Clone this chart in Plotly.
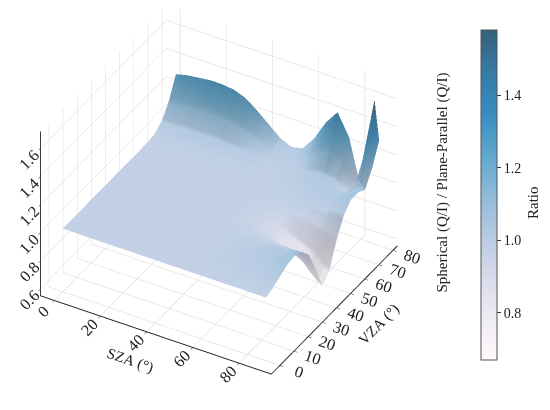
import plotly.graph_objects as go

# SZA (rows) and VZA (columns) grid, in degrees
sza = [0, 5, 10, 15, 20, 25, 30, 35, 40, 45, 50, 55, 60, 65, 70, 75, 80, 82, 84, 86, 88]
vza = [0, 5, 10, 15, 20, 25, 30, 35, 40, 45, 50, 55, 60, 65, 70, 75, 80]

# Ratio Spherical / Plane-Parallel (Q/I), one row per SZA, columns follow vza
ratio = [
    [1.00, 1.00, 1.00, 1.00, 1.00, 1.00, 1.00, 1.00, 1.00, 1.00, 1.00, 1.00, 1.00, 1.01, 1.05, 1.14, 1.28],
    [1.00, 1.00, 1.00, 1.00, 1.00, 1.00, 1.00, 1.00, 1.00, 1.00, 1.00, 1.00, 1.00, 1.02, 1.05, 1.15, 1.30],
    [1.00, 1.00, 1.00, 1.00, 1.00, 1.00, 1.00, 1.00, 1.00, 1.00, 1.00, 1.00, 1.00, 1.02, 1.06, 1.16, 1.31],
    [1.00, 1.00, 1.00, 1.00, 1.00, 1.00, 1.00, 1.00, 1.00, 1.00, 1.00, 1.00, 1.00, 1.02, 1.06, 1.16, 1.32],
    [1.00, 1.00, 1.00, 1.00, 1.00, 1.00, 1.00, 1.00, 1.00, 1.00, 1.00, 1.00, 1.00, 1.02, 1.06, 1.16, 1.32],
    [1.00, 1.00, 1.00, 1.00, 1.00, 1.00, 1.00, 1.00, 1.00, 1.00, 1.00, 1.00, 1.00, 1.02, 1.06, 1.16, 1.31],
    [1.00, 1.00, 1.00, 1.00, 1.00, 1.00, 1.00, 1.00, 1.00, 1.00, 1.00, 1.00, 1.00, 1.01, 1.05, 1.14, 1.28],
    [1.00, 1.00, 1.00, 1.00, 1.00, 1.00, 1.00, 1.00, 1.00, 1.00, 1.00, 1.00, 1.00, 1.01, 1.04, 1.11, 1.22],
    [1.00, 1.00, 1.00, 1.00, 1.00, 1.00, 1.00, 1.00, 1.00, 1.00, 1.00, 1.00, 1.00, 1.01, 1.03, 1.08, 1.15],
    [1.00, 1.00, 1.00, 1.00, 1.00, 1.00, 1.00, 1.00, 1.00, 1.00, 1.00, 1.00, 1.00, 1.00, 1.01, 1.04, 1.08],
    [1.00, 1.00, 1.00, 1.00, 1.00, 1.00, 1.00, 1.00, 1.00, 1.00, 1.00, 1.00, 1.00, 1.00, 1.01, 1.02, 1.04],
    [1.00, 1.00, 1.00, 1.00, 1.00, 1.00, 1.00, 0.99, 0.98, 0.99, 0.99, 1.00, 1.00, 1.01, 1.01, 1.03, 1.06],
    [1.00, 1.00, 1.01, 1.01, 1.01, 1.01, 1.00, 0.98, 0.96, 0.97, 0.99, 1.00, 1.01, 1.02, 1.03, 1.08, 1.16],
    [1.00, 1.00, 1.01, 1.02, 1.02, 1.02, 1.00, 0.97, 0.93, 0.94, 0.98, 1.00, 1.02, 1.03, 1.05, 1.15, 1.30],
    [1.00, 1.01, 1.02, 1.03, 1.03, 1.02, 1.00, 0.95, 0.88, 0.91, 0.97, 1.01, 1.03, 1.04, 1.07, 1.20, 1.40],
    [1.00, 1.01, 1.03, 1.04, 1.05, 1.04, 1.00, 0.93, 0.84, 0.87, 0.95, 1.01, 1.04, 1.04, 1.05, 1.13, 1.25],
    [1.00, 1.01, 1.03, 1.05, 1.06, 1.05, 1.00, 0.90, 0.79, 0.83, 0.94, 1.01, 1.05, 1.04, 0.99, 0.96, 0.92],
    [1.00, 1.02, 1.04, 1.06, 1.07, 1.05, 1.00, 0.89, 0.75, 0.81, 0.93, 1.02, 1.06, 1.05, 1.02, 1.05, 1.10],
    [1.00, 1.02, 1.04, 1.07, 1.08, 1.06, 1.00, 0.87, 0.72, 0.78, 0.92, 1.02, 1.07, 1.07, 1.07, 1.20, 1.40],
    [1.00, 1.02, 1.05, 1.08, 1.09, 1.07, 1.00, 0.86, 0.69, 0.75, 0.91, 1.02, 1.08, 1.09, 1.10, 1.29, 1.58],
    [1.00, 1.02, 1.05, 1.08, 1.09, 1.07, 1.00, 0.85, 0.67, 0.74, 0.90, 1.02, 1.08, 1.08, 1.05, 1.15, 1.30],
]

x_ticks = [0, 20, 40, 60, 80]
y_ticks = [0, 10, 20, 30, 40, 50, 60, 70, 80]
z_ticks = [0.6, 0.8, 1.0, 1.2, 1.4, 1.6]
cb_ticks = [0.8, 1.0, 1.2, 1.4]

# matplotlib PuBu seen at alpha 0.8 over white
pubu_soft = [
    [0.000, "rgb(255,249,252)"],
    [0.125, "rgb(240,236,245)"],
    [0.250, "rgb(217,218,235)"],
    [0.375, "rgb(184,202,226)"],
    [0.500, "rgb(144,186,217)"],
    [0.625, "rgb(94,166,205)"],
    [0.750, "rgb(55,141,192)"],
    [0.875, "rgb(54,123,164)"],
    [1.000, "rgb(53,96,121)"],
]

FONT = "Liberation Serif"

z_grid = [[ratio[i][j] for i in range(len(sza))] for j in range(len(vza))]

fig = go.Figure()
fig.add_trace(go.Surface(
    x=sza, y=vza, z=z_grid,
    colorscale=pubu_soft,
    opacity=0.9,
    showscale=True,
    lighting=dict(ambient=0.8, diffuse=0.4, specular=0.05, roughness=0.9),
    colorbar=dict(
        x=473 / 550, xanchor="left", xpad=0, y=1 - 187 / 410, yanchor="middle", ypad=0,
        len=330 / 410, lenmode="fraction", thickness=16,
        outlinecolor="#555555", outlinewidth=1,
        tickvals=cb_ticks, ticktext=[f"{t:.1f}" for t in cb_ticks],
        ticks="outside", ticklen=4, tickcolor="#333333",
        tickfont=dict(family=FONT, size=14, color="#222222"),
    ),
))

axis_common = dict(
    showbackground=False,
    gridcolor="#d4d4d4", gridwidth=1,
    showline=True, linecolor="#222222", linewidth=2,
    ticks="outside", ticklen=4, tickcolor="#222222",
    tickfont=dict(family=FONT, size=14, color="#222222"),
    zeroline=False, showspikes=False,
)

fig.update_layout(
    width=550, height=410,
    margin=dict(l=0, r=0, t=0, b=0),
    paper_bgcolor="white",
    font=dict(family=FONT, color="#222222"),
    scene=dict(
        domain=dict(x=[0.02, 0.79], y=[0.03, 1.0]),
        xaxis=dict(axis_common, range=[-6, 94], tickvals=x_ticks,
                   title=dict(text="SZA (°)", font=dict(family=FONT, size=15))),
        yaxis=dict(axis_common, range=[-6, 83], tickvals=y_ticks,
                   title=dict(text="VZA (°)", font=dict(family=FONT, size=15))),
        zaxis=dict(axis_common, range=[0.55, 1.72], tickvals=z_ticks,
                   ticktext=[f"{t:.1f}" for t in z_ticks],
                   title=dict(text="")),
        aspectmode="manual",
        aspectratio=dict(x=1.34, y=1.265, z=1.02),
        camera=dict(eye=dict(x=0.809, y=-1.279, z=0.9855),
                    center=dict(x=0.081, y=-0.018, z=-0.0725),
                    projection=dict(type="orthographic")),
    ),
    annotations=[
        dict(text="Spherical (Q/I) / Plane-Parallel (Q/I)",
             x=445 / 550, y=1 - 175 / 410, xref="paper", yref="paper",
             showarrow=False, textangle=-90,
             font=dict(family=FONT, size=15, color="#222222")),
        dict(text="Ratio",
             x=535 / 550, y=1 - 195 / 410, xref="paper", yref="paper",
             showarrow=False, textangle=-90,
             font=dict(family=FONT, size=15, color="#222222")),
    ],
)

fig.write_html("out.html")
